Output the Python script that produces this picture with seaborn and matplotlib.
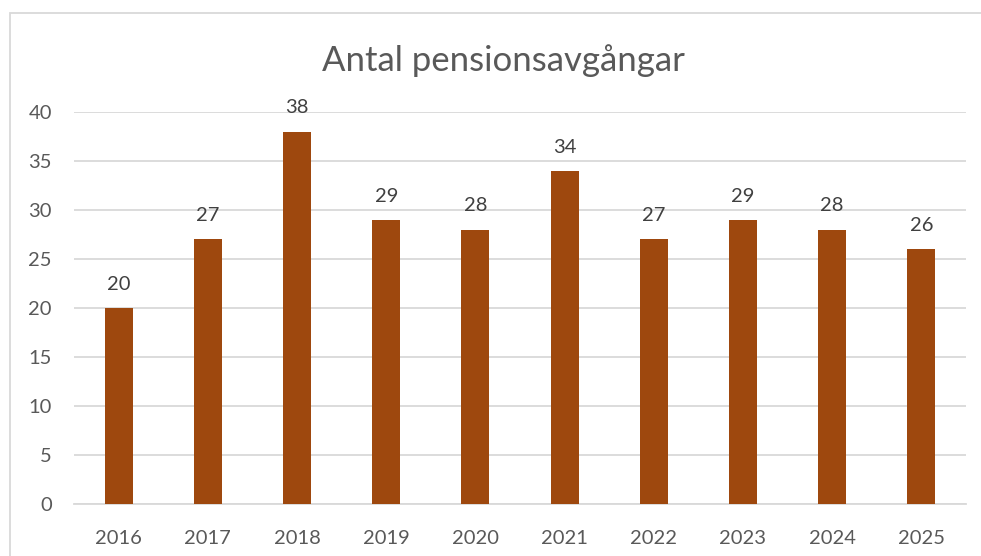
import matplotlib
matplotlib.use("Agg")
import matplotlib.pyplot as plt
import seaborn as sns
import pandas as pd
from matplotlib.patches import Rectangle

years = ["2016", "2017", "2018", "2019", "2020", "2021", "2022", "2023", "2024", "2025"]
counts = [20, 27, 38, 29, 28, 34, 27, 29, 28, 26]
title = "Antal pensionsavgångar"
yticks = [0, 5, 10, 15, 20, 25, 30, 35, 40]

df = pd.DataFrame({"year": years, "count": counts})

sns.set_theme(style="white")
plt.rcParams["font.family"] = ["Lato", "DejaVu Sans"]

fig = plt.figure(figsize=(9.81, 5.56), dpi=100)
ax = fig.add_axes([74 / 981, 1 - 504 / 556, (966 - 74) / 981, (504 - 112) / 556])

sns.barplot(data=df, x="year", y="count", color="#9E480E", saturation=1,
            width=0.315, linewidth=0, ax=ax, zorder=3)

for c in ax.containers:
    ax.bar_label(c, padding=11, fontsize=14.5, color="#404040")

ax.set_ylim(0, 40)
ax.set_xlim(-0.5, len(years) - 0.5)
ax.set_yticks(yticks)
ax.yaxis.grid(True, color="#D9D9D9", linewidth=1.3, zorder=0)
ax.set_axisbelow(True)
for s in ["left", "right", "top"]:
    ax.spines[s].set_visible(False)
ax.spines["bottom"].set_color("#D9D9D9")
ax.spines["bottom"].set_linewidth(1.3)
ax.tick_params(axis="both", length=0, labelsize=14.5, colors="#595959")
ax.tick_params(axis="y", pad=16)
ax.tick_params(axis="x", pad=19)
ax.set_xlabel("")
ax.set_ylabel("")

fig.text(503 / 981, 1 - 61 / 556, title, ha="center", va="center",
         fontsize=25, color="#595959")

fig.patches.append(Rectangle((10 / 981, -0.01), 1.0, 1 - 13 / 556 + 0.01,
                             transform=fig.transFigure, fill=False,
                             edgecolor="#D9D9D9", linewidth=1.3))

fig.savefig("out.png", dpi=100, facecolor="white")
